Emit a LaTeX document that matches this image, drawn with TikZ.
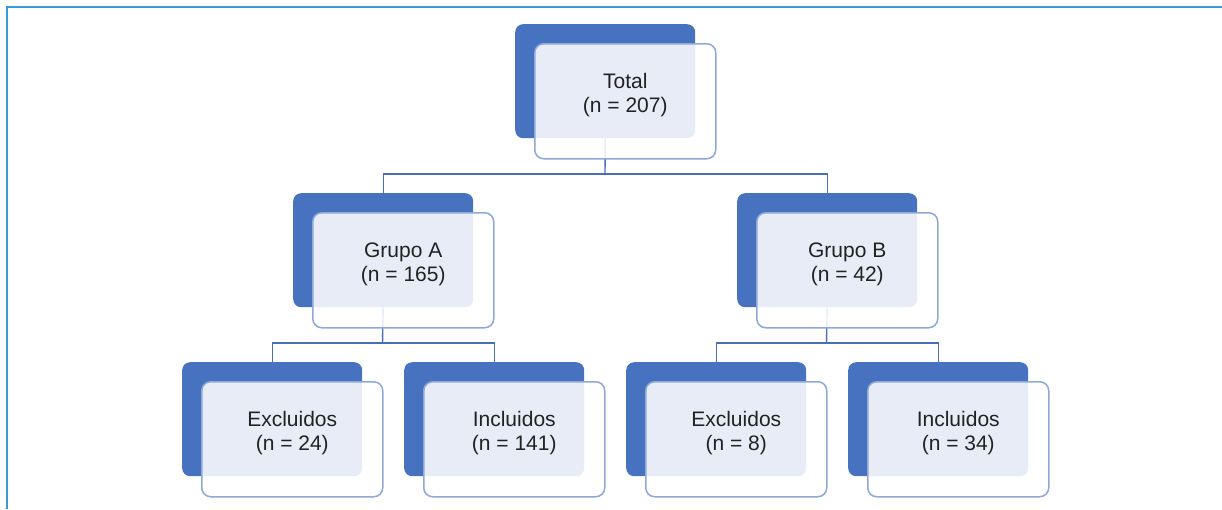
\documentclass[tikz,border=0pt]{standalone}
\usepackage{fontspec}
\setmainfont{Liberation Sans}
\usetikzlibrary{calc}
\definecolor{dk}{HTML}{4672C0}
\definecolor{lt}{HTML}{8EA8DA}
\definecolor{ln}{HTML}{4A6EBA}
\definecolor{frm}{HTML}{3A9AD6}
\definecolor{txt}{HTML}{222222}
\tikzset{
  darkbox/.style={fill=dk, rounded corners=8pt, minimum width=180pt, minimum height=114pt, inner sep=0pt, anchor=north west},
  lightbox/.style={draw=lt, line width=1.5pt, fill=white, fill opacity=0.87, rounded corners=9pt, minimum width=181pt, minimum height=115pt, inner sep=0pt, anchor=north west},
  boxtext/.style={align=center, text=txt, font=\fontsize{21}{24}\selectfont, inner sep=0pt},
  conn/.style={draw=ln, line width=1.4pt},
  frame/.style={draw=frm, line width=1.6pt}
}
\begin{document}
\begin{tikzpicture}[x=1pt,y=-1pt]
\useasboundingbox (0,0) rectangle (1222,509);
\draw[frame] (7,509) -- (7,7) -- (1222,7);
% dark boxes
\node[darkbox] (T) at (515,24) {};
\node[darkbox] (A) at (293,193) {};
\node[darkbox] (B) at (737,193) {};
\node[darkbox] (E1) at (182,362) {};
\node[darkbox] (I1) at (404,362) {};
\node[darkbox] (E2) at (626,362) {};
\node[darkbox] (I2) at (848,362) {};
% connectors
\coordinate (j1) at (605,174);
\coordinate (j2) at (382.5,343);
\coordinate (j3) at (826.5,343);
\draw[conn] (T.south) -- (j1);
\draw[conn] (A.north) |- (j1) -| (B.north);
\draw[conn] (A.south) -- (j2);
\draw[conn] (E1.north) |- (j2) -| (I1.north);
\draw[conn] (B.south) -- (j3);
\draw[conn] (E2.north) |- (j3) -| (I2.north);
% light boxes
\node[lightbox] (TL) at (534,43) {};
\node[lightbox] (AL) at (312,212) {};
\node[lightbox] (BL) at (756,212) {};
\node[lightbox] (E1L) at (201,381) {};
\node[lightbox] (I1L) at (423,381) {};
\node[lightbox] (E2L) at (645,381) {};
\node[lightbox] (I2L) at (867,381) {};
% texts
\node[boxtext] (TT) at ([yshift=6pt]TL.center) {Total\\(n = 207)};
\node[boxtext] (AT) at ([yshift=6pt]AL.center) {Grupo A\\(n = 165)};
\node[boxtext] (BT) at ([yshift=6pt]BL.center) {Grupo B\\(n = 42)};
\node[boxtext] (E1T) at ([yshift=6pt]E1L.center) {Excluidos\\(n = 24)};
\node[boxtext] (I1T) at ([yshift=6pt]I1L.center) {Incluidos\\(n = 141)};
\node[boxtext] (E2T) at ([yshift=6pt]E2L.center) {Excluidos\\(n = 8)};
\node[boxtext] (I2T) at ([yshift=6pt]I2L.center) {Incluidos\\(n = 34)};
\end{tikzpicture}
\end{document}
